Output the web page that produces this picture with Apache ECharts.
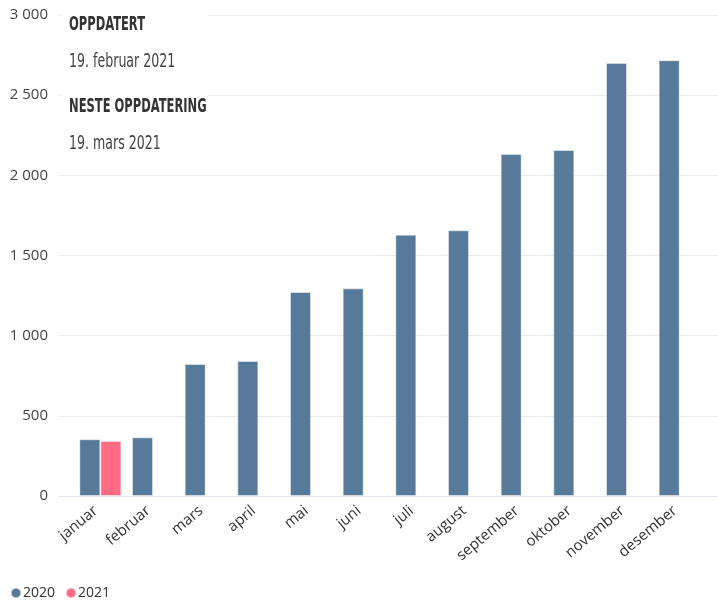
<!DOCTYPE html>
<html>
<head>
<meta charset="utf-8">
<script src="https://cdn.jsdelivr.net/npm/echarts@6/dist/echarts.min.js"></script>
<style>
html,body{margin:0;padding:0;background:#fff;}
#chart{width:718px;height:602px;}
</style>
</head>
<body>
<div id="chart"></div>
<script>
const categories = ['januar','februar','mars','april','mai','juni','juli','august','september','oktober','november','desember'];
const values2020 = [354, 366, 823, 842, 1272, 1295, 1630, 1657, 2133, 2158, 2701, 2718];
const values2021 = [343, null, null, null, null, null, null, null, null, null, null, null];
const seriesNames = ['2020', '2021'];
const yTicks = { min: 0, max: 3000, interval: 500 };
const infoLines = ['OPPDATERT', '19. februar 2021', 'NESTE OPPDATERING', '19. mars 2021'];

const fmt = v => String(v).replace(/\B(?=(\d{3})+(?!\d))/g, ' ');
const chart = echarts.init(document.getElementById('chart'));
const TOP = 15, BOTTOM = 106;
const headerFont = '"Liberation Sans Narrow", "DejaVu Sans Condensed", sans-serif';

chart.setOption({
  animation: false,
  backgroundColor: '#fff',
  grid: [
    { left: 74, right: 12, top: TOP, bottom: BOTTOM },
    { left: 59, right: 0, top: TOP, bottom: BOTTOM }
  ],
  legend: {
    left: 5, top: 581,
    icon: 'circle', itemWidth: 10, itemHeight: 10, itemGap: 10,
    textStyle: { fontFamily: '"Open Sans", sans-serif', fontSize: 14, color: '#333', padding: [0, 0, 0, -3] },
    data: seriesNames
  },
  xAxis: [
    {
      type: 'category', gridIndex: 0, data: categories,
      axisLine: { show: false }, axisTick: { show: false },
      axisLabel: { rotate: 40, margin: 9, padding: [0, 6, 0, 0], fontFamily: '"Open Sans", sans-serif', fontSize: 15, color: '#333', interval: 0 }
    },
    {
      type: 'value', gridIndex: 1, min: 0, max: 1, show: true,
      axisLabel: { show: false }, axisTick: { show: false }, splitLine: { show: false },
      axisLine: { show: true, onZero: false, lineStyle: { color: '#dfe6ee', width: 1 } }
    }
  ],
  yAxis: [
    {
      type: 'value', gridIndex: 0, min: yTicks.min, max: yTicks.max, interval: yTicks.interval,
      axisLabel: { show: false }, splitLine: { show: false }, axisLine: { show: false }, axisTick: { show: false }
    },
    {
      type: 'value', gridIndex: 1, min: yTicks.min, max: yTicks.max, interval: yTicks.interval,
      axisLine: { show: false }, axisTick: { show: false },
      splitLine: { lineStyle: { color: '#e8ecf1', width: 1 } },
      axisLabel: { margin: 11, fontFamily: '"Open Sans", sans-serif', fontSize: 15, color: '#444', formatter: fmt }
    }
  ],
  series: [
    {
      name: seriesNames[0], type: 'bar', xAxisIndex: 0, yAxisIndex: 0, data: values2020,
      barWidth: 21, barGap: '0%',
      itemStyle: { color: '#587a9a', borderColor: 'rgba(255,255,255,0.45)', borderWidth: 1 }
    },
    {
      name: seriesNames[1], type: 'bar', xAxisIndex: 0, yAxisIndex: 0, data: values2021,
      barWidth: 21, barGap: '0%',
      itemStyle: { color: '#ff6b85', borderColor: 'rgba(255,255,255,0.45)', borderWidth: 1 }
    }
  ],
  graphic: [
    { type: 'rect', left: 62, top: 4, shape: { width: 146, height: 162 }, style: { fill: '#fff' }, z: 10 },
    { type: 'text', x: 69, y: 25, scaleX: 0.64, z: 11,
      style: { text: infoLines[0], font: 'bold 20px ' + headerFont, fill: '#333', verticalAlign: 'middle' } },
    { type: 'text', x: 69, y: 62, scaleX: 0.70, z: 11,
      style: { text: infoLines[1], font: '20px ' + headerFont, fill: '#444', verticalAlign: 'middle' } },
    { type: 'text', x: 69, y: 107, scaleX: 0.64, z: 11,
      style: { text: infoLines[2], font: 'bold 20px ' + headerFont, fill: '#333', verticalAlign: 'middle' } },
    { type: 'text', x: 69, y: 144, scaleX: 0.70, z: 11,
      style: { text: infoLines[3], font: '20px ' + headerFont, fill: '#444', verticalAlign: 'middle' } }
  ]
});
</script>
</body>
</html>
